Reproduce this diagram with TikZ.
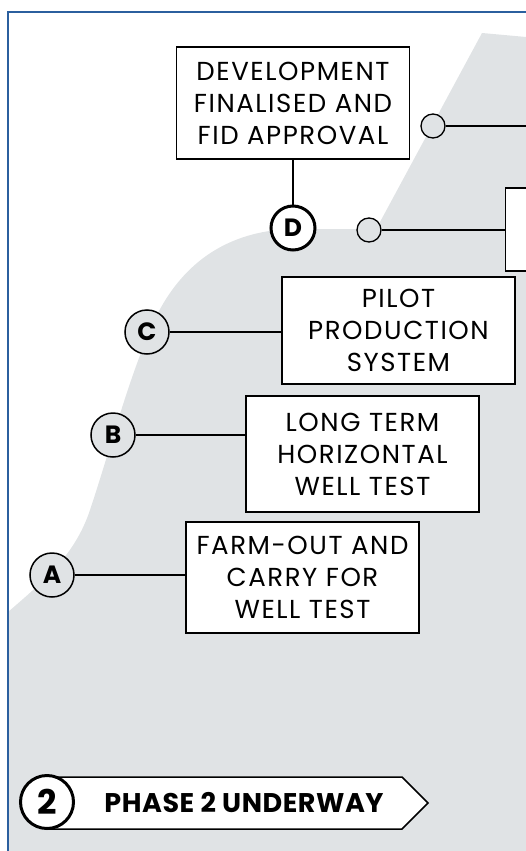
\documentclass[tikz,border=0pt]{standalone}
\usepackage{fontspec}
\setmainfont{Poppins}
\usepackage{tikz}
\usetikzlibrary{positioning}
\definecolor{bggray}{HTML}{E0E3E5}
\definecolor{frameblue}{HTML}{2B5F9E}

\begin{document}
\begin{tikzpicture}[x=1pt, y=-1pt,
	mbox/.style={draw, fill=white, line width=1.3pt, align=center, inner sep=0pt, minimum width=233pt, font=\fontsize{26}{32}\selectfont\addfontfeature{LetterSpace=6}},
	letter/.style={circle, draw, fill=bggray, line width=1.5pt, minimum size=44pt, inner sep=0pt, font=\bfseries\fontsize{25}{25}\selectfont},
	dot/.style={circle, draw, fill=bggray, line width=1.3pt, minimum size=24pt, inner sep=0pt},
	link/.style={line width=1.3pt, black}]
	\useasboundingbox (0,0) rectangle (526,851);
	\clip (0,0) rectangle (526,851);
	% background
	\fill[bggray] (482,33) -- (526,37) -- (526,851) -- (8,851) -- (8,612)
		.. controls (45,580) and (75,555) .. (90,510)
		.. controls (110,450) and (125,390) .. (150,330)
		.. controls (175,270) and (220,232) .. (290,229)
		-- (370,229) .. controls (377,229) .. (380,222) -- cycle;
	\draw[frameblue, line width=2pt] (526,12) -- (8,12) -- (8,851);
	% milestones
	\path (293,103) node(dev)[mbox, minimum height=112pt]{DEVELOPMENT\\FINALISED AND\\FID APPROVAL}
	(398.5,330.5) node(pilot)[mbox, minimum height=107pt]{PILOT\\PRODUCTION\\SYSTEM}
	(362.5,454) node(lthw)[mbox, minimum height=116pt]{LONG TERM\\HORIZONTAL\\WELL TEST}
	(302.5,577.5) node(farm)[mbox, minimum height=111pt]{FARM-OUT AND\\CARRY FOR\\WELL TEST}
	(622,229.5) node(next)[mbox, minimum height=83pt]{};
	\path (293,228) node(D)[letter, fill=white, line width=3pt]{D}
	(147,332) node(C)[letter]{C}
	(113,435) node(B)[letter]{B}
	(52,575) node(A)[letter]{A}
	(433,126) node(dot1)[dot]{}
	(369,230) node(dot2)[dot]{};
	\coordinate (offr) at (540,126);
	\draw [link] (dev) -- (D);
	\draw [link] (dot1) -- (offr);
	\draw [link] (dot2) -- (dot2 -| next.west);
	\draw [link] (C) -- (C -| pilot.west);
	\draw [link] (B) -- (B -| lthw.west);
	\draw [link] (A) -- (A -| farm.west);
	% phase banner
	\draw [line width=1.5pt, fill=white] (47,777) -- (402,777) -- (428,803) -- (402,829) -- (47,829) -- cycle;
	\path (244,803) node(phase)[font=\bfseries\fontsize{27}{27}\selectfont\addfontfeature{LetterSpace=2}]{PHASE 2 UNDERWAY}
	(47,802) node(two)[circle, draw, fill=white, line width=3pt, minimum size=53pt, inner sep=0pt, font=\bfseries\fontsize{34}{34}\selectfont]{2};
\end{tikzpicture}
\end{document}
